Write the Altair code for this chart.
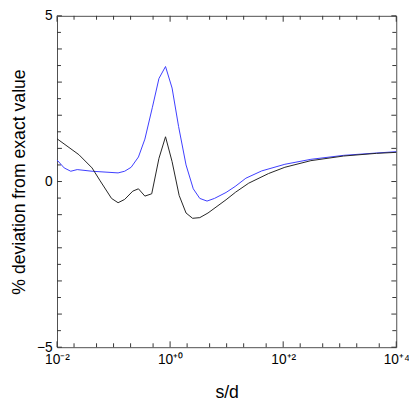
import altair as alt
import pandas as pd

# log10(s/d) positions and % deviation values
black_log = [-2.0, -1.613, -1.38, -1.237, -1.036, -0.92, -0.804, -0.66, -0.56, -0.446,
             -0.325, -0.197, -0.081, 0.035, 0.16, 0.282, 0.398, 0.525, 0.67, 0.99,
             1.16, 1.39, 1.74, 2.03, 2.49, 3.07, 3.65, 4.0]
black_val = [1.29, 0.81, 0.41, 0.02, -0.51, -0.64, -0.54, -0.29, -0.22, -0.44,
             -0.37, 0.70, 1.35, 0.60, -0.42, -0.95, -1.11, -1.09, -0.95, -0.55,
             -0.32, -0.05, 0.24, 0.43, 0.63, 0.77, 0.85, 0.88]

blue_log = [-2.0, -1.873, -1.757, -1.643, -1.38, -0.92, -0.804, -0.689, -0.56, -0.446,
            -0.313, -0.197, -0.081, 0.035, 0.15, 0.282, 0.41, 0.525, 0.653, 0.785,
            0.99, 1.15, 1.34, 1.62, 2.03, 2.49, 3.07, 3.65, 4.0]
blue_val = [0.65, 0.41, 0.31, 0.36, 0.31, 0.26, 0.31, 0.43, 0.74, 1.28,
            2.24, 3.11, 3.47, 2.82, 1.66, 0.50, -0.22, -0.51, -0.59, -0.51,
            -0.33, -0.15, 0.10, 0.32, 0.52, 0.67, 0.79, 0.86, 0.90]

x_major = [0.01, 1, 100, 10000]
x_minor = [m * 10.0 ** e for e in range(-2, 4) for m in (1, 2, 5)
           if not (m == 1 and e % 2 == 0)]
y_labels = [-5, 0, 5]
y_major = list(range(-5, 6))
y_minor = [i + 0.5 for i in range(-5, 5)]

black = pd.DataFrame({"s": [10 ** v for v in black_log], "dev": black_val})
blue = pd.DataFrame({"s": [10 ** v for v in blue_log], "dev": blue_val})

W, H = 346, 338
FONT = "Liberation Sans"
GRAY = "#4d4d4d"
TICK = "#333333"

xscale = alt.Scale(type="log", domain=[0.01, 10000], nice=False)
yscale = alt.Scale(domain=[-5, 5], nice=False, zero=False)

label_expr = ("round(log(datum.value)/LN10) == -2 ? '10⁻²' : "
              "round(log(datum.value)/LN10) == 0 ? '10⁺⁰' : "
              "round(log(datum.value)/LN10) == 2 ? '10⁺²' : '10⁺⁴'")

x_lab = alt.Axis(orient="bottom", values=x_major, labelExpr=label_expr, ticks=False,
                 domain=False, grid=False, labelFlush=False, labelOverlap=False,
                 labelFont=FONT, labelFontSize=14, labelColor="black", labelPadding=6,
                 title="s/d", titleFont=FONT, titleFontSize=18, titleFontWeight="normal",
                 titleColor="black", titlePadding=17)
y_lab = alt.Axis(orient="left", values=y_labels, ticks=False, domain=False, grid=False,
                 labelFont=FONT, labelFontSize=14, labelColor="black", labelPadding=5,
                 title="% deviation from exact value", titleFont=FONT, titleFontSize=18,
                 titleFontWeight="normal", titleColor="black", titlePadding=8)

X = alt.X("s:Q", scale=xscale, axis=x_lab)
Y = alt.Y("dev:Q", scale=yscale, axis=y_lab)

black_line = alt.Chart(black).mark_line(color="#222222", strokeWidth=1).encode(x=X, y=Y)
blue_line = alt.Chart(blue).mark_line(color="#3a3aff", strokeWidth=1).encode(x=X, y=Y)


def xticks(vals, length):
    d = pd.DataFrame({"s": vals})
    base = alt.Chart(d).mark_rule(color=TICK, strokeWidth=1)
    enc = dict(x=alt.X("s:Q", scale=xscale), x2=alt.X2("s:Q"))
    bottom = base.encode(**enc, y=alt.value(H), y2=alt.value(H - length))
    top = base.encode(**enc, y=alt.value(0), y2=alt.value(length))
    return [bottom, top]


def yticks(vals, length):
    d = pd.DataFrame({"dev": vals})
    base = alt.Chart(d).mark_rule(color=TICK, strokeWidth=1)
    enc = dict(y=alt.Y("dev:Q", scale=yscale))
    left = base.encode(**enc, x=alt.value(0), x2=alt.value(length))
    right = base.encode(**enc, x=alt.value(W), x2=alt.value(W - length))
    return [left, right]


tick_layers = (xticks(x_major, 6) + xticks(x_minor, 4)
               + yticks(y_major, 5) + yticks(y_minor, 4))

chart = alt.layer(*tick_layers, blue_line, black_line).properties(
    width=W, height=H,
    autosize=alt.AutoSizeParams(type="none"),
    padding={"left": 50, "top": 4, "right": 13, "bottom": 57},
).configure_view(stroke=GRAY, strokeWidth=1)

chart.save("out.html", embed_options={"renderer": "svg", "actions": False})
